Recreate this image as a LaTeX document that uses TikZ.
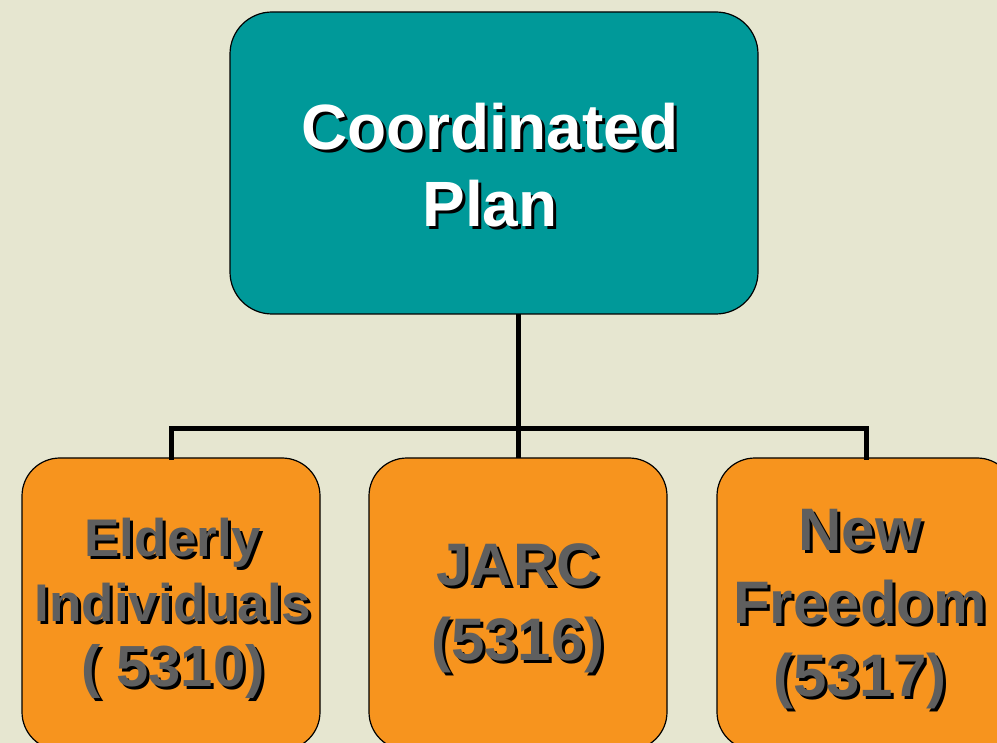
\documentclass[tikz,border=0pt]{standalone}
\usepackage{fontspec}
\setmainfont{Liberation Sans}
\usepackage{tikz}
\usetikzlibrary{calc}

\definecolor{paper}{RGB}{230,230,208}
\definecolor{teal}{RGB}{0,153,153}
\definecolor{amber}{RGB}{247,148,30}
\definecolor{slate}{RGB}{95,95,95}

% word with a black drop shadow
\newcommand{\sh}[1]{\rlap{\kern3pt\raisebox{-3pt}{\color{black}#1}}#1}

\tikzset{
  planbox/.style={draw=black, line width=1.2pt, fill=teal, rounded corners=42pt,
    minimum width=528pt, minimum height=302pt, inner sep=0pt, outer sep=0pt},
  fundbox/.style={draw=black, line width=1.2pt, fill=amber, rounded corners=38pt,
    minimum width=298pt, minimum height=292pt, inner sep=0pt, outer sep=0pt},
  plantext/.style={align=center, inner sep=0pt, text=white,
    font=\bfseries\fontsize{64}{77}\selectfont},
  fundtext/.style={align=center, inner sep=0pt, text=slate,
    font=\bfseries\fontsize{60}{73}\selectfont},
  link/.style={line width=5pt, black}
}

\begin{document}
\begin{tikzpicture}[x=1pt, y=-1pt]

\useasboundingbox (0,0) rectangle (997,743);
\clip (0,0) rectangle (997,743);
\fill[paper] (0,0) rectangle (997,743);

%plan
\node[planbox] (plan) at (494,163) {};
\node[plantext] (plan-text) at ([shift={(-4,4)}]plan.center) {\sh{Coordinated}\\\sh{Plan}};

%programs
\node[fundbox] (elderly) at (171,604) {};
\node[fundbox] (jarc) at (518,604) {};
\node[fundbox] (freedom) at (866,604) {};

\node[fundtext, font=\bfseries\fontsize{53}{65}\selectfont] (elderly-text)
  at ([shift={(2,6)}]elderly.center)
  {\sh{Elderly}\\\sh{Individuals}\\\fontsize{58}{72}\selectfont\sh{( 5310)}};
\node[fundtext, font=\bfseries\fontsize{60}{75}\selectfont] (jarc-text)
  at ([shift={(0,6)}]jarc.center) {\sh{JARC}\\\sh{(5316)}};
\node[fundtext] (freedom-text) at ([shift={(-6,7)}]freedom.center)
  {\sh{New}\\\sh{Freedom}\\\sh{(5317)}};

%tree
\coordinate (fork) at (518,429);
\draw[link] (fork |- plan.south) -- (fork);
\draw[link, line cap=rect] (fork) -| (elderly.north);
\draw[link, line cap=rect] (fork) -| (freedom.north);
\draw[link] (fork) -- (jarc.north);

\end{tikzpicture}
\end{document}
